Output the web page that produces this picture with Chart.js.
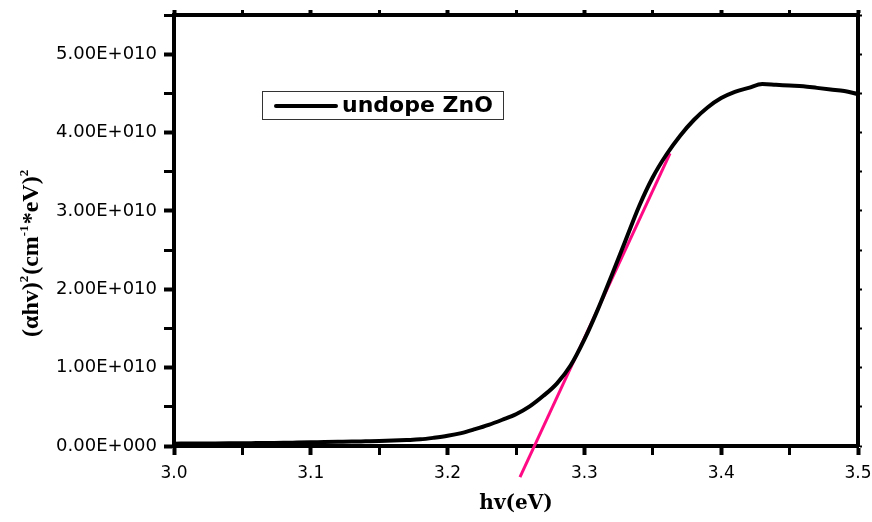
<!DOCTYPE html>
<html>
<head>
<meta charset="utf-8">
<script src="https://cdn.jsdelivr.net/npm/chart.js@4.4.1/dist/chart.umd.min.js"></script>
<style>
  html, body { margin: 0; padding: 0; background: #fff; }
  #wrap { width: 872px; height: 522px; }
</style>
</head>
<body>
<div id="wrap"><canvas id="myChart" width="872" height="522"></canvas></div>
<script>
// photon energy (eV)
const hv = [3.00, 3.01, 3.02, 3.03, 3.04, 3.05, 3.06, 3.07, 3.08, 3.09,
            3.10, 3.11, 3.12, 3.13, 3.14, 3.15, 3.16, 3.17, 3.18, 3.19,
            3.20, 3.21, 3.22, 3.23, 3.24, 3.25, 3.26, 3.27, 3.28, 3.29,
            3.30, 3.31, 3.32, 3.33, 3.34, 3.35, 3.36, 3.37, 3.38, 3.39,
            3.40, 3.41, 3.42, 3.43, 3.44, 3.45, 3.46, 3.47, 3.48, 3.49, 3.50];
// (alpha*hv)^2 in units of 1E+010
const alphaHv2 = [0.030, 0.031, 0.032, 0.033, 0.034, 0.035, 0.037, 0.039, 0.041, 0.044,
                  0.047, 0.050, 0.053, 0.056, 0.060, 0.064, 0.069, 0.076, 0.085, 0.105,
                  0.130, 0.165, 0.215, 0.270, 0.335, 0.405, 0.505, 0.640, 0.800, 1.030,
                  1.360, 1.750, 2.180, 2.620, 3.060, 3.430, 3.720, 3.960, 4.160, 4.320,
                  4.440, 4.520, 4.570, 4.620, 4.610, 4.600, 4.590, 4.570, 4.550, 4.530, 4.490];
const seriesName = 'undope ZnO';

// linear fit (Tauc extrapolation) end points
const fitX = [3.2529, 3.3626];
const fitY = [-0.396, 3.734];

const xTicksMajor = [3.0, 3.1, 3.2, 3.3, 3.4, 3.5];

const isMajor = v => Math.abs(v * 10 - Math.round(v * 10)) < 1e-6;
const isMajorY = v => Math.abs(v - Math.round(v)) < 1e-6;

// legend box drawn inside the plot
const boxLegend = {
    id: 'boxLegend',
    afterDatasetsDraw(chart) {
        const ctx = chart.ctx;
        const a = chart.chartArea;
        const ds = chart.data.datasets[0];
        const x = a.left + 88, y = a.top + 76, w = 241, h = 28;
        ctx.save();
        ctx.fillStyle = '#fff';
        ctx.fillRect(x, y, w, h);
        ctx.strokeStyle = '#333';
        ctx.lineWidth = 1;
        ctx.strokeRect(x + 0.5, y + 0.5, w, h);
        ctx.strokeStyle = ds.borderColor;
        ctx.lineWidth = 4;
        ctx.lineCap = 'round';
        ctx.beginPath();
        ctx.moveTo(x + 14, y + 15);
        ctx.lineTo(x + 74, y + 15);
        ctx.stroke();
        ctx.fillStyle = '#000';
        ctx.font = 'bold 22px "DejaVu Sans"';
        ctx.textBaseline = 'middle';
        ctx.fillText(ds.label, x + 80, y + 15);
        ctx.restore();
    }
};

// rotated y title with superscripts
const yTitle = {
    id: 'yTitle',
    afterDraw(chart) {
        const ctx = chart.ctx;
        const parts = [
            ['(\u03b1hv)', false], ['2', true], ['(cm', false], ['-1', true],
            ['*eV)', false], ['2', true]
        ];
        ctx.save();
        ctx.translate(38, chart.chartArea.bottom - 109);
        ctx.rotate(-Math.PI / 2);
        ctx.fillStyle = '#000';
        ctx.textBaseline = 'alphabetic';
        let cx = 0;
        for (const [t, sup] of parts) {
            ctx.font = sup ? 'bold 13px "Liberation Serif"' : 'bold 24px "Liberation Serif"';
            ctx.fillText(t, cx, sup ? -10 : 0);
            cx += ctx.measureText(t).width + (sup ? 1 : 0);
        }
        ctx.restore();
    }
};

const tickFont = { family: '"DejaVu Sans"', size: 17 };

const ctx = document.getElementById('myChart').getContext('2d');
const myChart = new Chart(ctx, {
    type: 'line',
    data: {
        datasets: [{
            label: seriesName,
            data: hv.map((x, i) => ({ x: x, y: alphaHv2[i] })),
            borderColor: '#000',
            borderWidth: 4,
            pointRadius: 0,
            cubicInterpolationMode: 'monotone',
            fill: false
        }, {
            label: 'fit',
            data: fitX.map((x, i) => ({ x: x, y: fitY[i] })),
            borderColor: '#ff0a84',
            borderWidth: 3,
            pointRadius: 0,
            clip: false,
            fill: false
        }]
    },
    options: {
        responsive: false,
        animation: false,
        layout: { padding: 0 },
        plugins: {
            legend: { display: false },
            tooltip: { enabled: false }
        },
        scales: {
            x: {
                type: 'linear',
                position: 'bottom',
                min: 3.0,
                max: 3.5,
                afterFit: s => { s.height = 76; s.paddingLeft = 0; s.paddingRight = 0; },
                afterBuildTicks: s => {
                    s.ticks = [];
                    for (let i = 0; i <= 10; i++) s.ticks.push({ value: +(3.0 + i * 0.05).toFixed(2) });
                },
                ticks: {
                    autoSkip: false,
                    maxRotation: 0,
                    color: '#000',
                    font: tickFont,
                    padding: 8,
                    callback: v => xTicksMajor.some(m => Math.abs(m - v) < 1e-6) ? v.toFixed(1) : ''
                },
                grid: {
                    drawOnChartArea: false,
                    drawTicks: true,
                    tickLength: 9,
                    tickColor: '#000',
                    tickWidth: c => isMajor(c.tick.value) ? 4 : 3
                },
                border: { color: '#000', width: 4 },
                title: {
                    display: true,
                    text: 'hv(eV)',
                    color: '#000',
                    font: { family: '"DejaVu Serif"', size: 20, weight: 'bold' },
                    padding: { top: 0, bottom: 6 }
                }
            },
            y: {
                type: 'linear',
                position: 'left',
                min: 0,
                max: 5.5,
                afterFit: s => { s.width = 174; s.paddingTop = 0; s.paddingBottom = 0; },
                ticks: {
                    stepSize: 0.5,
                    includeBounds: false,
                    autoSkip: false,
                    color: '#000',
                    font: { family: '"DejaVu Sans"', size: 18 },
                    padding: 7,
                    callback: v => isMajorY(v) ? (v === 0 ? '0.00E+000' : v.toFixed(2) + 'E+010') : ''
                },
                grid: {
                    drawOnChartArea: false,
                    drawTicks: true,
                    tickLength: 10,
                    tickColor: '#000',
                    tickWidth: c => isMajorY(c.tick.value) ? 4 : 3
                },
                border: { color: '#000', width: 4 }
            },
            x2: {
                type: 'linear',
                position: 'top',
                min: 3.0,
                max: 3.5,
                afterFit: s => { s.height = 15; s.paddingLeft = 0; s.paddingRight = 0; },
                afterBuildTicks: s => {
                    s.ticks = [];
                    for (let i = 0; i <= 10; i++) s.ticks.push({ value: +(3.0 + i * 0.05).toFixed(2) });
                },
                ticks: { display: false },
                grid: {
                    drawOnChartArea: false,
                    drawTicks: true,
                    tickLength: 5,
                    tickColor: '#000',
                    tickWidth: c => isMajor(c.tick.value) ? 4 : 3
                },
                border: { color: '#000', width: 4 }
            },
            y2: {
                type: 'linear',
                position: 'right',
                min: 0,
                max: 5.5,
                afterFit: s => { s.width = 14; s.paddingTop = 0; s.paddingBottom = 0; },
                ticks: { display: false, stepSize: 0.5, includeBounds: false },
                grid: {
                    drawOnChartArea: false,
                    drawTicks: true,
                    tickLength: 4,
                    tickColor: '#000',
                    tickWidth: 2
                },
                border: { color: '#000', width: 4 }
            }
        }
    },
    plugins: [boxLegend, yTitle]
});
</script>
</body>
</html>
